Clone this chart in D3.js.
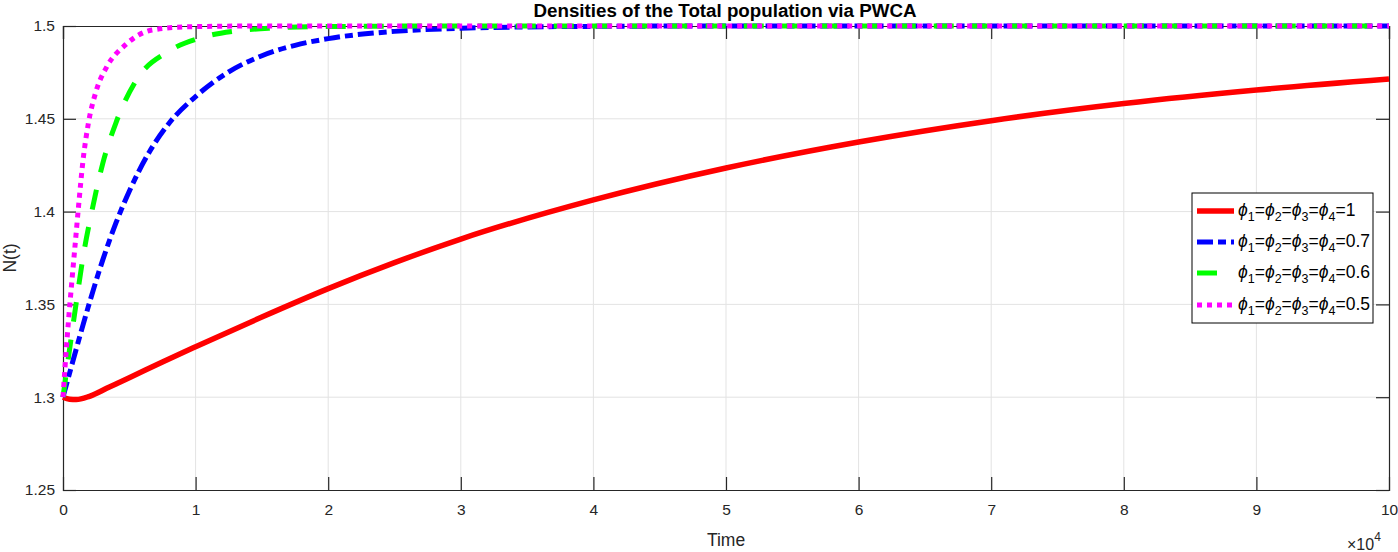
<!DOCTYPE html>
<html>
<head>
<meta charset="utf-8">
<script src="https://cdn.jsdelivr.net/npm/d3@7"></script>
<style>
  body { margin: 0; background: #fff; }
  svg { display: block; }
</style>
</head>
<body>
<div id="chart"></div>
<script>
// time in units of 10^4
const timeRed = [0, 0.05, 0.1, 0.2, 0.35, 0.5, 0.75, 1, 1.5, 2, 2.5, 3, 4, 5, 6, 7, 8, 9, 10];
const popRed  = [1.3, 1.2989, 1.2987, 1.3005, 1.3055, 1.3105, 1.319, 1.3272, 1.3432, 1.3585, 1.3725, 1.3852, 1.4063, 1.4235, 1.4375, 1.449, 1.4582, 1.4655, 1.4714];

const timeBlue = [0, 0.1, 0.2, 0.3, 0.4, 0.5, 0.65, 0.8, 1, 1.25, 1.5, 1.75, 2, 2.5, 3, 3.5, 4, 5, 10];
const popBlue  = [1.3, 1.326, 1.351, 1.374, 1.394, 1.411, 1.432, 1.4476, 1.462, 1.4753, 1.484, 1.4896, 1.4932, 1.4971, 1.4988, 1.4995, 1.4998, 1.5, 1.5];

const timeGreen = [0, 0.05, 0.1, 0.15, 0.22, 0.3, 0.4, 0.55, 0.8, 1.05, 1.3, 1.55, 2, 3, 10];
const popGreen  = [1.3, 1.326, 1.351, 1.375, 1.401, 1.426, 1.448, 1.4705, 1.4865, 1.4939, 1.4973, 1.4988, 1.4997, 1.5, 1.5];

const timeMagenta = [0, 0.015, 0.04, 0.065, 0.095, 0.12, 0.15, 0.19, 0.25, 0.33, 0.47, 0.67, 0.95, 1.5, 10];
const popMagenta  = [1.3, 1.316, 1.34, 1.361, 1.385, 1.405, 1.427, 1.447, 1.465, 1.478, 1.4898, 1.4978, 1.4996, 1.5, 1.5];

const phiValues = ['1', '0.7', '0.6', '0.5'];
const xTicks = [0, 1, 2, 3, 4, 5, 6, 7, 8, 9, 10];
const yTicks = [1.25, 1.3, 1.35, 1.4, 1.45, 1.5];

const series = [
    { t: timeRed, n: popRed, color: '#ff0000', dash: null, width: 5.5 },
    { t: timeBlue, n: popBlue, color: '#0000ff', dash: '16,5,8,5', width: 5 },
    { t: timeGreen, n: popGreen, color: '#00ff00', dash: '20,18', width: 5 },
    { t: timeMagenta, n: popMagenta, color: '#ff00ff', dash: '5,5', width: 5 }
];

const FONT = '"Liberation Sans", Arial, Helvetica, sans-serif';
const width = 1398, height = 552;
const margin = { top: 26, right: 9, bottom: 62, left: 63 };
const innerW = width - margin.left - margin.right;
const innerH = height - margin.top - margin.bottom;

const svg = d3.select('#chart').append('svg')
    .attr('width', width)
    .attr('height', height)
    .attr('font-family', FONT);

const g = svg.append('g').attr('transform', `translate(${margin.left},${margin.top})`);

const x = d3.scaleLinear().domain([0, 10]).range([0, innerW]);
const y = d3.scaleLinear().domain([1.25, 1.5]).range([innerH, 0]);

// grid
g.append('g').selectAll('line').data(xTicks.slice(1, -1)).enter().append('line')
    .attr('x1', d => x(d)).attr('x2', d => x(d))
    .attr('y1', 0).attr('y2', innerH)
    .attr('stroke', '#e3e3e3').attr('stroke-width', 1);
g.append('g').selectAll('line').data(yTicks.slice(1, -1)).enter().append('line')
    .attr('y1', d => y(d)).attr('y2', d => y(d))
    .attr('x1', 0).attr('x2', innerW)
    .attr('stroke', '#e3e3e3').attr('stroke-width', 1);

// axes (ticks inward, box)
const tickLen = 13;
const xAxis = g.append('g').attr('transform', `translate(0,${innerH})`)
    .call(d3.axisBottom(x).tickValues(xTicks).tickFormat(d3.format('d')).tickSize(-tickLen).tickPadding(14));
const yAxis = g.append('g')
    .call(d3.axisLeft(y).tickValues(yTicks).tickFormat(d => String(d)).tickSize(-tickLen).tickPadding(8));
g.append('g')
    .call(d3.axisTop(x).tickValues(xTicks).tickFormat('').tickSize(-tickLen));
g.append('g').attr('transform', `translate(${innerW},0)`)
    .call(d3.axisRight(y).tickValues(yTicks).tickFormat('').tickSize(-tickLen));

g.selectAll('.domain').attr('stroke', '#262626').attr('stroke-width', 1.2);
g.selectAll('.tick line').attr('stroke', '#262626').attr('stroke-width', 1.2);
g.selectAll('.tick text')
    .attr('font-family', FONT)
    .attr('font-size', 15.5)
    .attr('fill', '#262626');
g.selectAll('g').attr('font-family', FONT).attr('font-size', 15.5);
xAxis.selectAll('.tick line').filter(d => d === 0 || d === 10).attr('stroke', null);

// lines
const line = d3.line()
    .x(d => x(d[0]))
    .y(d => y(d[1]))
    .curve(d3.curveMonotoneX);

series.forEach(s => {
    const pts = s.t.map((t, i) => [t, s.n[i]]);
    g.append('path')
        .datum(pts)
        .attr('fill', 'none')
        .attr('stroke', s.color)
        .attr('stroke-width', s.width)
        .attr('stroke-dasharray', s.dash)
        .attr('d', line);
});

// title and labels
svg.append('text')
    .attr('x', 725).attr('y', 17)
    .attr('text-anchor', 'middle')
    .attr('font-weight', 'bold')
    .attr('font-size', 18)
    .attr('textLength', 383)
    .attr('lengthAdjust', 'spacingAndGlyphs')
    .attr('fill', '#000')
    .text('Densities of the Total population via PWCA');

svg.append('text')
    .attr('x', margin.left + innerW / 2).attr('y', 546)
    .attr('text-anchor', 'middle')
    .attr('font-size', 17.5)
    .attr('fill', '#262626')
    .text('Time');

svg.append('text')
    .attr('transform', `translate(16,${margin.top + innerH / 2}) rotate(-90)`)
    .attr('text-anchor', 'middle')
    .attr('font-size', 17.5)
    .attr('fill', '#262626')
    .text('N(t)');

const expo = svg.append('text')
    .attr('x', 1347).attr('y', 550)
    .attr('font-size', 16)
    .attr('fill', '#262626');
expo.append('tspan').text('\u00d710');
expo.append('tspan').attr('font-size', 12).attr('dy', -9).text('4');

// legend
const legend = svg.append('g').attr('transform', 'translate(1192,193)');
legend.append('rect')
    .attr('width', 181).attr('height', 130)
    .attr('fill', '#fff').attr('stroke', '#000').attr('stroke-width', 1);

const rowY = [18, 49, 80, 112];
series.forEach((s, i) => {
    const row = legend.append('g').attr('transform', `translate(0,${rowY[i]})`);
    row.append('line')
        .attr('x1', 5).attr('x2', 42)
        .attr('stroke', s.color).attr('stroke-width', s.width)
        .attr('stroke-dasharray', s.dash);
    const txt = row.append('text')
        .attr('x', 46).attr('y', 5)
        .attr('font-size', 17.5)
        .attr('fill', '#000');
    [1, 2, 3, 4].forEach(k => {
        txt.append('tspan').attr('font-style', 'italic').text('\u03d5');
        txt.append('tspan').attr('font-size', 12.5).attr('dy', 5).text(k);
        txt.append('tspan').attr('dy', -5).text('=');
    });
    txt.append('tspan').text(phiValues[i]);
});
</script>
</body>
</html>
